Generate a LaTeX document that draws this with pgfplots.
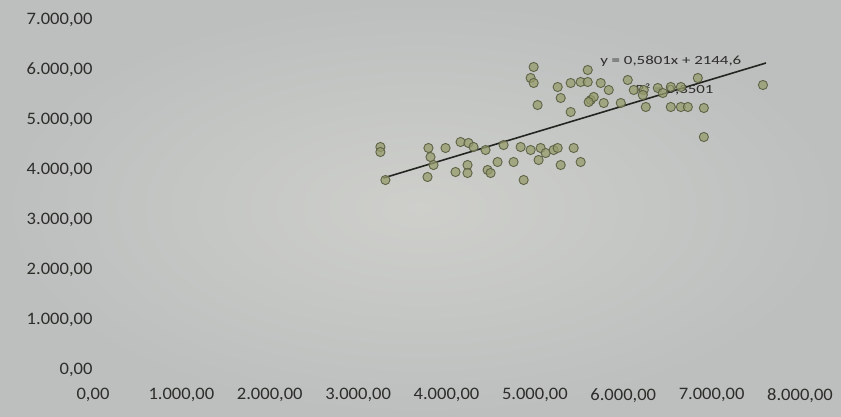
\documentclass[border=0pt]{standalone}
\usepackage{pgfplots}
\pgfplotsset{compat=1.18}
\usepackage{fontspec}
\setmainfont{Carlito}[FakeStretch=1.06]
\newfontfamily\eqfont{Carlito}[FakeStretch=1.35]
\definecolor{txt}{RGB}{45,45,42}
\definecolor{mfill}{RGB}{150,156,108}
\definecolor{mdraw}{RGB}{95,100,72}
\definecolor{trend}{RGB}{35,38,32}
\definecolor{bgin}{RGB}{206,207,203}
\definecolor{bgout}{RGB}{188,191,190}
\begin{document}
\begin{tikzpicture}[x=1pt,y=1pt]
\useasboundingbox (0,0) rectangle (841,416);
\shade[inner color=bgin, outer color=bgout] (0,0) rectangle (841,416);
\begin{axis}[
  at={(93pt,46pt)}, anchor=south west,
  width=707pt, height=350pt, scale only axis,
  xmin=0, xmax=8000, ymin=0, ymax=7000,
  xtick={0,1000,...,8000}, ytick={0,1000,...,7000},
  axis line style={draw=none}, major tick length=0pt,
  /pgf/number format/.cd, fixed, fixed zerofill, precision=2, use comma, 1000 sep={.}, assume math mode=true,
  /pgfplots/.cd,
  ticklabel style={font=\fontsize{17.5}{19}\selectfont, text=txt},
  xticklabel style={yshift=-15pt},
  yticklabel style={xshift=3pt},
  clip=false,
]
\addplot[only marks, mark=*, mark size=4.6pt, mark options={fill=mfill, fill opacity=0.75, draw=mdraw, line width=0.9pt}] table {
x y
3252 4460
3252 4360
3309 3800
3796 4440
3819 4260
3853 4100
3785 3860
3989 4440
4159 4560
4249 4540
4306 4460
4102 3960
4238 4100
4238 3940
4442 4400
4465 4000
4499 3940
4578 4160
4646 4500
4759 4160
4839 4460
4873 3800
4952 4400
5065 4440
5122 4340
5042 4200
5212 4400
5258 4440
5292 4100
5439 4440
5518 4160
4986 6060
4952 5840
4986 5740
5031 5300
5258 5660
5292 5440
5405 5740
5518 5760
5598 5760
5598 6000
5632 5400
5405 5160
5745 5740
5779 5340
5666 5460
5609 5360
6051 5800
6119 5600
6232 5600
6221 5500
6255 5260
5972 5340
6391 5640
6448 5540
6538 5660
6652 5660
6844 5840
6538 5260
6652 5260
6731 5260
6912 5240
6912 4660
7581 5700
5836 5600
};
\addplot[draw=trend, line width=1.6pt] coordinates {(3286,3840) (7615,6140)};
\node[anchor=west, font=\eqfont\fontsize{12.5}{14}\selectfont, text=txt] at (axis cs:5700,6180) {y = 0,5801x + 2144,6};
\node[anchor=west, font=\eqfont\fontsize{12.5}{14}\selectfont, text=txt] at (axis cs:6100,5620) {R² = 0,3501};
\end{axis}
\end{tikzpicture}
\end{document}
